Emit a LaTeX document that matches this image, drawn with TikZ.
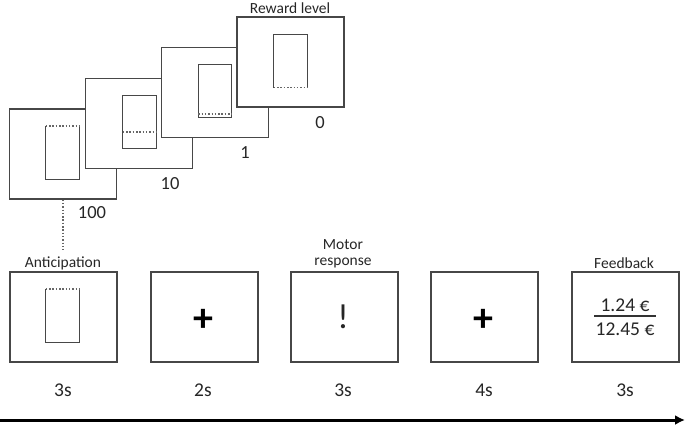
\documentclass[tikz,border=0pt]{standalone}
\usepackage{fontspec}
\setmainfont{Carlito}
\usetikzlibrary{arrows.meta}
\begin{document}
\begin{tikzpicture}[x=1pt,y=-1pt,
  screen/.style={draw=black!72, line width=1.2pt, fill=white, minimum width=107pt, minimum height=90pt, inner sep=0pt},
  card/.style={minimum width=33pt, minimum height=53pt, inner sep=0pt},
  cardline/.style={draw=black!72, line width=1.2pt},
  level/.style={draw=black!60, line width=1.5pt, dash pattern=on 1.5pt off 1.8pt},
  lbl/.style={font=\fontsize{15.5}{17}\selectfont, text=black!85, inner sep=0pt},
  num/.style={font=\fontsize{18.5}{20}\selectfont, text=black!85, inner sep=0pt},
  dur/.style={font=\fontsize{19.5}{21}\selectfont, text=black!85, inner sep=0pt}]
\useasboundingbox (0,0) rectangle (685,425);
% stacked reward-level screens
\node[screen] (sA) at (63,154) {};
\node[card] (cA) at (62.5,152.5) {};
\draw[cardline] (cA.north west) -- (cA.south west) -- (cA.south east) -- (cA.north east);
\draw[level] (cA.north west) -- (cA.north east);
\node[screen] (sB) at (139,123.5) {};
\node[card] (cB) at (139.5,122) {};
\draw[cardline] (cB.north west) rectangle (cB.south east);
\draw[level] ([yshift=-10pt]cB.west) -- ([yshift=-10pt]cB.east);
\node[screen] (sC) at (215,92.5) {};
\node[card] (cC) at (215,91) {};
\draw[cardline] (cC.north west) rectangle (cC.south east);
\draw[level] ([yshift=3.5pt]cC.south west) -- ([yshift=3.5pt]cC.south east);
\node[screen] (sD) at (290.5,62) {};
\node[card] (cD) at (290.5,61) {};
\draw[cardline] (cD.south west) -- (cD.north west) -- (cD.north east) -- (cD.south east);
\draw[level] (cD.south west) -- (cD.south east);
\node[lbl] (rl) at (290,8) {Reward level};
\node[num] (n0) at (320,123) {0};
\node[num] (n1) at (245,153) {1};
\node[num] (n10) at (170,184) {10};
\node[num] (n100) at (92,213) {100};
\coordinate (dend) at (63,250);
\draw[level] (sA.south) -- (dend);
% trial sequence
\node[screen] (t1) at (63.5,317) {};
\node[card] (c1) at (62.5,315.5) {};
\draw[cardline] (c1.north west) -- (c1.south west) -- (c1.south east) -- (c1.north east);
\draw[level] (c1.north west) -- (c1.north east);
\node[screen] (t2) at (204.5,317) {};
\node[font=\fontsize{40}{40}\selectfont\bfseries, inner sep=0pt] (p2) at (203.5,320) {+};
\node[screen] (t3) at (344.5,317) {};
\node[font=\fontsize{35}{35}\selectfont, text=black!85, inner sep=0pt] (ex) at (343,317) {!};
\node[screen] (t4) at (484.5,317) {};
\node[font=\fontsize{40}{40}\selectfont\bfseries, inner sep=0pt] (p4) at (483.5,320) {+};
\node[screen] (t5) at (625.5,317) {};
\node[dur] (fa) at (625,305) {1.24 €};
\node[dur] (fb) at (625,329) {12.45 €};
\coordinate (fl) at (594,316);
\coordinate (fr) at (656,316);
\draw[black!80, line width=1.2pt] (fl) -- (fr);
\node[lbl] (l1) at (63,263) {Anticipation};
\node[lbl] (l3a) at (343,245) {Motor};
\node[lbl] (l3b) at (343,263) {response};
\node[lbl] (l5) at (624,263) {Feedback};
\node[dur] (d1) at (63,390) {3s};
\node[dur] (d2) at (203,390) {2s};
\node[dur] (d3) at (343,390) {3s};
\node[dur] (d4) at (484,390) {4s};
\node[dur] (d5) at (625,390) {3s};
\coordinate (as) at (0,420);
\coordinate (ae) at (685,420);
\draw[line width=3pt, -{Latex[length=10pt,width=10pt]}] (as) -- (ae);
\end{tikzpicture}
\end{document}
